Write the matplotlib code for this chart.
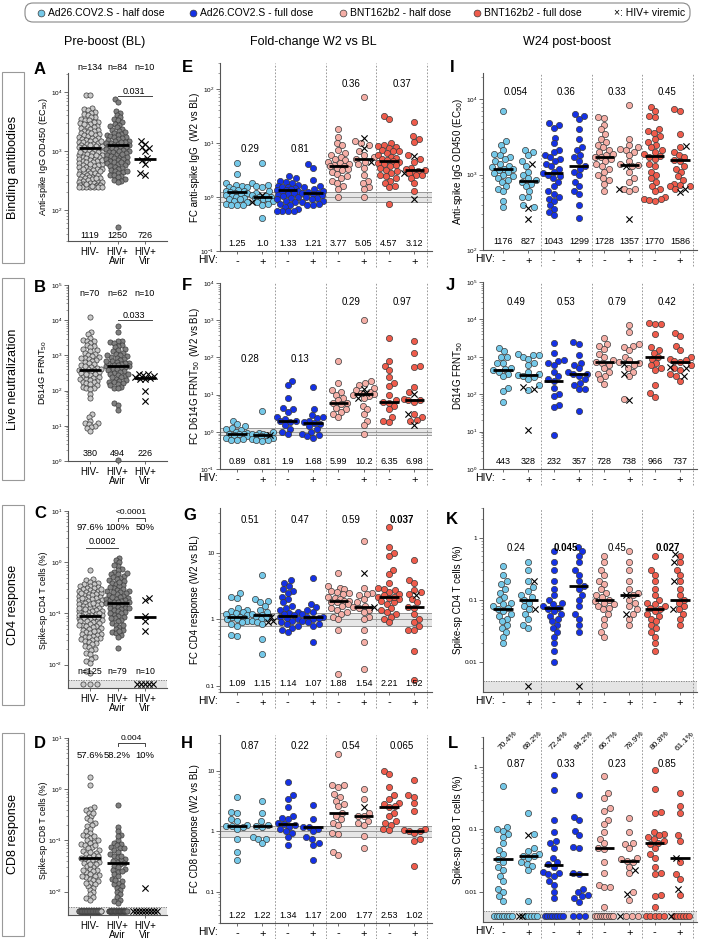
import numpy as np
import matplotlib
matplotlib.use("Agg")
import matplotlib.pyplot as plt
import matplotlib.transforms as mtransforms
from matplotlib.patches import FancyBboxPatch, Rectangle
from matplotlib.ticker import FixedLocator, FixedFormatter, LogFormatterMathtext, NullFormatter

plt.rcParams['font.family'] = ['Liberation Sans', 'DejaVu Sans']
plt.rcParams['mathtext.fontset'] = 'custom'
plt.rcParams['mathtext.rm'] = 'Liberation Sans'

# ======================= DATA =======================
legend_labels = ["Ad26.COV2.S - half dose", "Ad26.COV2.S - full dose",
                 "BNT162b2 - half dose", "BNT162b2 - full dose"]
bl_groups = ["HIV-", "HIV+\nAvir", "HIV+\nVir"]
hiv_ticks = ["-", "+"] * 4

# ---- Panel A: baseline binding IgG ----
A_neg = [9000, 8700, 5300, 5100, 4900, 4600, 4400, 4200, 4000, 3800,
         3700, 3500, 3400, 3300, 3150, 3050, 2950, 2850, 2700, 2600,
         2550, 2450, 2380, 2300, 2220, 2150, 2080, 2010, 1960, 1900,
         1840, 1790, 1740, 1690, 1640, 1600, 1550, 1510, 1470, 1430,
         1400, 1360, 1330, 1290, 1260, 1230, 1200, 1170, 1140, 1119,
         1100, 1070, 1050, 1020, 1000, 975, 950, 930, 905, 885,
         860, 840, 820, 800, 780, 760, 745, 725, 705, 690,
         670, 655, 640, 620, 605, 590, 575, 560, 545, 530,
         515, 505, 490, 480, 465, 455, 445, 430, 420, 410,
         400, 390, 380, 370, 362, 353, 345, 337, 330, 322,
         315, 308, 300, 294, 288, 282, 276, 270, 266, 262,
         258, 255, 252, 250, 250, 250, 250, 250, 250, 250,
         2900, 2000, 1500, 1250, 1150, 950, 850, 700, 600, 500, 450, 350, 280, 260]
A_avir = [7600, 6800, 4700, 4400, 4000, 3700, 3500, 3300, 3100, 2900,
          2800, 2650, 2500, 2400, 2300, 2200, 2100, 2000, 1950, 1900,
          1850, 1800, 1750, 1700, 1650, 1600, 1550, 1500, 1460, 1420,
          1380, 1340, 1300, 1270, 1250, 1230, 1200, 1180, 1150, 1120,
          1100, 1070, 1040, 1010, 980, 950, 920, 890, 860, 830,
          800, 780, 760, 740, 720, 700, 680, 660, 640, 620,
          600, 580, 560, 540, 520, 500, 480, 460, 440, 420,
          400, 390, 380, 360, 340, 320, 310, 300, 52,
          1400, 1000, 900, 650, 450]
A_vir = [1450, 1300, 1150, 1120, 1000, 750, 700, 600, 420, 400]
A_n = ["n=134", "n=84", "n=10"]
A_med = [1119, 1250, 726]

# ---- Panel B: baseline neutralization ----
B_neg = [12000, 4500, 4000, 3200, 2800, 2600, 2500, 2300, 2000, 1800,
         1700, 1500, 1400, 1300, 1200, 1100, 1000, 950, 900, 850,
         800, 750, 700, 650, 600, 560, 520, 480, 450, 420,
         400, 390, 380, 370, 350, 330, 310, 290, 270, 250,
         240, 230, 220, 210, 200, 190, 180, 170, 160, 150,
         140, 130, 120, 115, 110, 80, 60, 22, 18, 14,
         12, 12, 11, 10, 9, 8.5, 7, 850, 300, 500]
B_avir = [7000, 4500, 2600, 2500, 2400, 2200, 2000, 1900, 1700, 1500,
          1400, 1300, 1200, 1100, 1000, 950, 900, 850, 800, 750,
          700, 650, 620, 600, 580, 550, 520, 500, 494, 480,
          460, 440, 420, 400, 380, 360, 340, 320, 300, 280,
          260, 240, 220, 200, 190, 180, 170, 160, 150, 140,
          130, 120, 115, 45, 40, 28, 1.1, 1000, 600, 700, 300, 250]
B_vir = [300, 295, 285, 265, 240, 230, 215, 210, 95, 50]
B_n = ["n=70", "n=62", "n=10"]
B_med = [380, 494, 226]

# ---- Panel C: baseline CD4 ----
C_neg = [0.7, 0.48, 0.45, 0.42, 0.4, 0.38, 0.37, 0.35, 0.34, 0.33, 0.32, 0.31, 0.3,
         0.29, 0.28, 0.27, 0.265, 0.26, 0.25, 0.245, 0.24, 0.23, 0.225, 0.22, 0.21,
         0.205, 0.2, 0.195, 0.19, 0.185, 0.18, 0.175, 0.17, 0.165, 0.16, 0.155, 0.15,
         0.146, 0.142, 0.138, 0.134, 0.13, 0.126, 0.122, 0.118, 0.114, 0.11, 0.107,
         0.104, 0.1, 0.098, 0.095, 0.092, 0.09, 0.088, 0.085, 0.082, 0.08, 0.078,
         0.075, 0.072, 0.07, 0.068, 0.065, 0.062, 0.06, 0.058, 0.056, 0.054, 0.052,
         0.05, 0.048, 0.046, 0.044, 0.042, 0.04, 0.039, 0.038, 0.036, 0.035, 0.034,
         0.033, 0.032, 0.031, 0.03, 0.029, 0.028, 0.026, 0.025, 0.023, 0.022, 0.02,
         0.019, 0.017, 0.016, 0.014, 0.013, 0.012, 0.011, 0.0075, 0.007,
         0.3, 0.2, 0.15, 0.12, 0.1, 0.085, 0.07, 0.06, 0.045, 0.11, 0.25, 0.16, 0.13, 0.095]
C_avir = [1.2, 1.1, 1.0, 0.85, 0.75, 0.7, 0.65, 0.6, 0.58, 0.55, 0.52, 0.5, 0.48, 0.45,
          0.43, 0.4, 0.38, 0.36, 0.34, 0.32, 0.3, 0.29, 0.28, 0.27, 0.26, 0.25, 0.24,
          0.23, 0.22, 0.21, 0.2, 0.195, 0.19, 0.185, 0.18, 0.175, 0.17, 0.165, 0.16,
          0.155, 0.15, 0.145, 0.14, 0.135, 0.13, 0.125, 0.12, 0.115, 0.11, 0.105, 0.1,
          0.095, 0.09, 0.085, 0.08, 0.075, 0.07, 0.065, 0.06, 0.055, 0.05, 0.047, 0.044,
          0.041, 0.038, 0.035, 0.021, 0.9, 0.62, 0.42, 0.33, 0.26, 0.21, 0.17, 0.13,
          0.1, 0.08, 0.06, 0.045]
C_vir = [0.2, 0.18, 0.09, 0.07, 0.045]
C_zero = [3, 0, 5]
C_pct = ["97.6%", "100%", "50%"]
C_n = ["n=125", "n=79", "n=10"]
C_med = [0.09, 0.16, 0.085]

# ---- Panel D: baseline CD8 ----
D_neg = [1.7, 1.2, 0.45, 0.42, 0.4, 0.35, 0.3, 0.28, 0.25, 0.22, 0.2, 0.19, 0.17, 0.15,
         0.14, 0.13, 0.12, 0.11, 0.1, 0.095, 0.09, 0.085, 0.08, 0.075, 0.07, 0.066,
         0.062, 0.058, 0.055, 0.052, 0.05, 0.048, 0.046, 0.044, 0.042, 0.04, 0.038,
         0.036, 0.034, 0.032, 0.03, 0.028, 0.026, 0.025, 0.024, 0.022, 0.021, 0.02,
         0.019, 0.018, 0.017, 0.016, 0.015, 0.014, 0.013, 0.012, 0.011, 0.01, 0.009,
         0.008, 0.0075, 0.007, 0.35, 0.12, 0.08, 0.06, 0.045, 0.035, 0.027, 0.02, 0.015, 0.1]
D_avir = [0.5, 0.18, 0.15, 0.13, 0.1, 0.09, 0.085, 0.08, 0.075, 0.07, 0.065, 0.06, 0.055,
          0.05, 0.047, 0.044, 0.041, 0.038, 0.036, 0.034, 0.032, 0.03, 0.028, 0.026,
          0.024, 0.022, 0.02, 0.018, 0.016, 0.015, 0.014, 0.013, 0.012, 0.011, 0.01,
          0.009, 0.008, 0.007, 0.0065, 0.006, 0.12, 0.07, 0.05, 0.04, 0.025, 0.017]
D_vir = [0.012]
D_zero = [53, 33, 9]
D_pct = ["57.6%", "58.2%", "10%"]
D_med = [0.045, 0.037, None]

# ---- Panel E: FC IgG ----
E_circ = [
    [4.3, 2.7, 1.8, 1.7, 1.6, 1.5, 1.5, 1.4, 1.35, 1.3, 1.3, 1.25, 1.2, 1.2, 1.15, 1.1, 1.05, 1.0, 0.95, 0.9, 0.9, 0.85, 0.8, 0.75, 0.72, 0.7, 0.7],
    [4.3, 1.8, 1.7, 1.6, 1.5, 1.3, 1.2, 1.1, 1.05, 1.0, 1.0, 0.95, 0.9, 0.9, 0.85, 0.8, 0.75, 0.7, 0.4],
    [2.4, 2.2, 2.0, 1.9, 1.8, 1.7, 1.6, 1.5, 1.5, 1.45, 1.4, 1.35, 1.33, 1.3, 1.25, 1.2, 1.15, 1.1, 1.05, 1.0, 0.95, 0.9, 0.85, 0.8, 0.75, 0.7, 0.65, 0.6, 0.55, 0.55, 0.55, 0.55],
    [4.0, 3.5, 2.1, 1.6, 1.5, 1.4, 1.3, 1.25, 1.21, 1.2, 1.15, 1.1, 1.0, 0.95, 0.9, 0.85, 0.8, 0.75, 0.7, 0.7],
    [18, 13, 10, 9, 7.5, 6.5, 6, 5.5, 5, 4.8, 4.5, 4.2, 4, 3.9, 3.8, 3.7, 3.5, 3.3, 3.1, 2.9, 2.7, 2.4, 2.2, 2.0, 1.8, 1.6, 1.4, 1.0],
    [70, 11, 10, 9, 7, 6, 5.5, 5, 4.5, 4, 3.5, 2.5, 2, 1.8, 1.5, 1.4, 1.0],
    [32, 28, 10, 9, 8.8, 8.5, 8, 7.5, 7.2, 7, 6.5, 6, 5.5, 5.2, 5, 4.8, 4.57, 4.5, 4.3, 4, 3.9, 3.8, 3.5, 3.2, 3, 2.8, 2.6, 2.4, 2.2, 2, 1.8, 1.6, 1.5, 0.75],
    [24, 13.5, 12, 10.5, 6, 5, 4.5, 3.5, 3.3, 3.1, 3, 2.9, 2.8, 2.6, 2.5, 2.2, 1.8, 1.3],
]
E_x = [[], [1.1, 0.8], [], [], [], [12.5, 8, 4.5], [], [5.8, 2.8, 0.9]]
E_med = [1.25, 1.0, 1.33, 1.21, 3.77, 5.05, 4.57, 3.12]
E_medlab = ["1.25", "1.0", "1.33", "1.21", "3.77", "5.05", "4.57", "3.12"]
E_p = ["0.29", "0.81", "0.36", "0.37"]

# ---- Panel F: FC neutralization ----
F_circ = [
    [2.0, 1.6, 1.4, 1.3, 1.2, 1.1, 1.0, 0.95, 0.9, 0.9, 0.85, 0.8, 0.75, 0.7, 0.65, 0.6, 0.6],
    [3.6, 1.0, 0.95, 0.9, 0.85, 0.8, 0.8, 0.75, 0.7, 0.65, 0.6, 0.6, 0.55],
    [23, 18, 8, 4.5, 4.2, 3.5, 2.5, 2.2, 2.0, 1.9, 1.8, 1.5, 1.2, 1.0, 0.85],
    [16, 4, 2.8, 2.5, 2.3, 2.0, 1.8, 1.68, 1.6, 1.4, 1.2, 1.0, 0.85, 0.8, 0.75, 0.7],
    [80, 20, 13, 12, 10, 8, 7, 6, 6, 5.5, 4.5, 4, 3.5, 3, 2.5],
    [1000, 23, 20, 18, 15, 13, 12, 11, 10.2, 10, 9, 8, 5, 4, 3, 2, 1.5, 0.9],
    [330, 80, 60, 45, 30, 20, 17, 10, 7, 6.35, 6, 5, 4, 2.5, 2, 1.8],
    [270, 130, 60, 55, 16, 12, 7.5, 7, 6.98, 6.5, 3, 2.5, 2.1, 2],
]
F_x = [[], [0.8], [], [], [], [14, 11, 8], [], [10.5, 3.1, 1.5]]
F_med = [0.89, 0.81, 1.9, 1.68, 5.99, 10.2, 6.35, 6.98]
F_medlab = ["0.89", "0.81", "1.9", "1.68", "5.99", "10.2", "6.35", "6.98"]
F_p = ["0.28", "0.13", "0.29", "0.97"]

# ---- Panel G: FC CD4 ----
G_circ = [
    [2.5, 2.2, 2.1, 1.5, 1.4, 1.35, 1.3, 1.25, 1.2, 1.15, 1.1, 1.09, 1.05, 1.0, 1.0, 0.95, 0.9, 0.85, 0.8, 0.58, 0.56],
    [4.6, 2.0, 1.9, 1.8, 1.6, 1.4, 1.3, 1.2, 1.15, 1.1, 1.05, 1.0, 0.95, 0.9, 0.85, 0.5, 0.3],
    [3.9, 3.6, 3.2, 2.9, 2.7, 2.5, 2.2, 2.0, 1.8, 1.6, 1.5, 1.4, 1.3, 1.25, 1.2, 1.15, 1.1, 1.05, 1.0, 0.95, 0.9, 0.85, 0.8, 0.75, 0.7, 0.65],
    [4.2, 1.7, 1.55, 1.4, 1.3, 1.2, 1.1, 1.07, 1.05, 1.0, 0.95, 0.9, 0.85, 0.8, 0.45],
    [5.0, 3.2, 3.0, 2.9, 2.7, 2.5, 2.4, 2.2, 2.1, 2.0, 1.9, 1.88, 1.8, 1.7, 1.6, 1.5, 1.4, 1.3, 1.2, 1.1, 1.0, 0.7, 0.15, 2.6, 1.85],
    [15, 3.0, 2.5, 2.4, 2.3, 2.0, 1.8, 1.6, 1.54, 1.5, 1.4, 1.3, 1.1, 1.0, 0.7, 0.45, 0.18],
    [25, 12.5, 10, 9, 5.5, 4.8, 3.5, 3.0, 2.8, 2.6, 2.4, 2.3, 2.21, 2.1, 2.0, 1.9, 1.8, 1.7, 1.5, 1.4, 1.3, 1.2, 1.1, 1.0, 0.9, 2.9, 2.2],
    [7.8, 3.9, 3.5, 2.8, 2.6, 2.4, 2.0, 1.8, 1.52, 1.5, 1.2, 1.0, 0.9, 0.8, 0.7, 0.7, 0.33, 0.12],
]
G_x = [[], [1.1, 0.95, 0.9], [], [], [], [5.0, 1.55], [], [2.3]]
G_med = [1.09, 1.15, 1.14, 1.07, 1.88, 1.54, 2.21, 1.52]
G_medlab = ["1.09", "1.15", "1.14", "1.07", "1.88", "1.54", "2.21", "1.52"]
G_p = ["0.51", "0.47", "0.59", "0.037"]
G_bold = [False, False, False, True]

# ---- Panel H: FC CD8 ----
H_circ = [
    [3.8, 2.1, 2.0, 1.6, 1.5, 1.3, 1.25, 1.22, 1.2, 1.1, 0.75, 0.45, 0.34],
    [3.2, 2.0, 1.5, 1.3, 1.22, 1.2, 0.8, 0.75, 0.75, 0.63],
    [6.5, 4.0, 3.5, 2.5, 1.8, 1.7, 1.6, 1.4, 1.34, 1.3, 1.2, 1.1, 1.0, 0.95, 0.8, 0.6],
    [2.7, 1.6, 1.2, 1.17, 1.1, 1.0, 0.8, 0.75, 0.65, 0.6, 0.33],
    [19, 6.0, 5.8, 5.5, 4.2, 3.8, 3.2, 2.8, 2.6, 2.0, 1.8, 1.6, 1.4, 1.3, 0.95, 0.9, 0.45, 0.4],
    [5.0, 3.5, 2.0, 1.8, 1.77, 1.5, 1.4, 1.3, 0.85, 0.53],
    [10, 9.0, 5.5, 4.0, 3.5, 3.0, 2.9, 2.6, 2.53, 2.0, 1.8, 1.5, 1.4, 1.3, 1.1, 1.05],
    [7.2, 4.0, 3.8, 3.0, 2.2, 1.1, 1.05, 1.02, 1.0, 0.95, 0.75, 0.7, 0.27],
]
H_x = [[], [], [], [], [], [2.5], [], []]
H_med = [1.22, 1.22, 1.34, 1.17, 2.00, 1.77, 2.53, 1.02]
H_medlab = ["1.22", "1.22", "1.34", "1.17", "2.00", "1.77", "2.53", "1.02"]
H_p = ["0.87", "0.22", "0.54", "0.065"]

# ---- Panel I: W24 IgG ----
I_circ = [
    [7000, 2800, 2500, 2100, 1900, 1800, 1700, 1600, 1500, 1400, 1300, 1250, 1200, 1176, 1150, 1100, 1050, 1000, 950, 900, 850, 800, 700, 650, 600, 450, 370],
    [2100, 2000, 1800, 1500, 1300, 1100, 1000, 900, 850, 800, 750, 700, 600, 500, 500, 400, 370],
    [4800, 4500, 4200, 3100, 2600, 2100, 2000, 1800, 1700, 1600, 1500, 1400, 1300, 1200, 1100, 1043, 1000, 950, 900, 800, 700, 600, 550, 500, 480, 450, 400, 350, 320, 290],
    [6300, 6100, 5500, 4000, 3000, 2300, 2100, 1800, 1700, 1500, 1300, 1200, 1100, 1000, 800, 700, 600, 550, 400, 270],
    [5800, 5600, 4600, 4000, 3500, 3000, 2700, 2500, 2300, 2100, 2000, 1900, 1800, 1728, 1700, 1600, 1500, 1400, 1300, 1200, 1100, 1000, 900, 850, 750, 600],
    [8500, 3000, 2500, 2300, 2200, 2100, 2000, 1800, 1500, 1400, 1357, 1300, 1100, 900, 800, 650, 650, 600],
    [8000, 7000, 6000, 5800, 4000, 3800, 3600, 3300, 3000, 2700, 2500, 2300, 2100, 2000, 1900, 1770, 1700, 1600, 1400, 1300, 1100, 1000, 900, 800, 700, 650, 600, 500, 480, 470, 460, 450],
    [7500, 7000, 3500, 2300, 2000, 1800, 1700, 1586, 1500, 1300, 1200, 1100, 950, 850, 750, 720, 700, 700, 650],
]
I_x = [[], [1400, 360, 260], [], [], [], [1300, 650, 260], [], [2400, 650, 580]]
I_med = [1176, 827, 1043, 1299, 1728, 1357, 1770, 1586]
I_medlab = ["1176", "827", "1043", "1299", "1728", "1357", "1770", "1586"]
I_p = ["0.054", "0.36", "0.33", "0.45"]

# ---- Panel J: W24 neutralization ----
J_circ = [
    [1700, 1400, 1000, 1000, 700, 700, 500, 470, 443, 400, 350, 300, 150, 120, 60],
    [1200, 1100, 1100, 1000, 900, 700, 600, 400, 350, 328, 300, 280, 250, 180, 130],
    [2300, 1300, 800, 750, 700, 600, 400, 300, 250, 232, 150, 100, 90, 50, 45, 8],
    [2500, 2200, 1100, 700, 600, 500, 400, 357, 350, 300, 250, 200, 180, 140, 140, 35],
    [3200, 2200, 2000, 1600, 1200, 1000, 800, 728, 700, 600, 500, 400, 350, 300, 250, 190],
    [7000, 4500, 2200, 2000, 1800, 1500, 1000, 800, 738, 700, 600, 500, 400, 300, 75],
    [8000, 7700, 7500, 4000, 1800, 1500, 1300, 1000, 900, 700, 600, 500, 450, 180, 110, 85],
    [4300, 3500, 2000, 1500, 1000, 900, 800, 750, 737, 600, 500, 450, 350, 300, 230],
]
J_x = [[], [160, 140, 11], [], [], [], [650, 350, 70], [], [550, 500, 300]]
J_med = [443, 328, 232, 357, 728, 738, 966, 737]
J_medlab = ["443", "328", "232", "357", "728", "738", "966", "737"]
J_p = ["0.49", "0.53", "0.79", "0.42"]

# ---- Panel K: W24 CD4 ----
K_circ = [
    [0.35, 0.25, 0.2, 0.18, 0.15, 0.13, 0.11, 0.1, 0.09, 0.085, 0.08, 0.075, 0.07, 0.065, 0.06, 0.055, 0.05, 0.045, 0.04, 0.035, 0.03, 0.025, 0.02],
    [0.4, 0.3, 0.2, 0.16, 0.14, 0.12, 0.11, 0.1, 0.09, 0.08, 0.07, 0.06, 0.05, 0.04, 0.035],
    [0.6, 0.4, 0.3, 0.2, 0.15, 0.12, 0.1, 0.09, 0.085, 0.08, 0.075, 0.07, 0.065, 0.06, 0.055, 0.05, 0.045, 0.04, 0.035, 0.03, 0.025, 0.02, 0.015, 0.01],
    [0.7, 0.6, 0.5, 0.4, 0.3, 0.25, 0.2, 0.17, 0.15, 0.12, 0.1, 0.08, 0.06, 0.05, 0.04, 0.03],
    [0.5, 0.4, 0.3, 0.25, 0.2, 0.18, 0.15, 0.13, 0.12, 0.11, 0.1, 0.095, 0.09, 0.085, 0.08, 0.075, 0.07, 0.06, 0.05, 0.04, 0.03, 0.025],
    [0.6, 0.4, 0.3, 0.2, 0.15, 0.13, 0.12, 0.1, 0.09, 0.08, 0.07, 0.06, 0.05, 0.04],
    [0.5, 0.3, 0.25, 0.2, 0.15, 0.12, 0.1, 0.09, 0.085, 0.08, 0.075, 0.07, 0.065, 0.06, 0.055, 0.05, 0.045, 0.04, 0.035, 0.03, 0.025, 0.02, 0.015],
    [0.5, 0.4, 0.3, 0.25, 0.2, 0.15, 0.12, 0.1, 0.09, 0.08, 0.07, 0.06, 0.05, 0.04],
]
K_x = [[], [0.2, 0.07], [], [], [], [0.12, 0.06], [], [0.55, 0.4, 0.2, 0.07]]
K_zero_c = [0, 0, 0, 0, 0, 0, 0, 0]
K_zero_x = [0, 1, 0, 1, 0, 0, 0, 0]
K_med = [0.07, 0.1, 0.075, 0.17, 0.1, 0.12, 0.07, 0.1]
K_p = ["0.24", "0.045", "0.45", "0.027"]
K_bold = [False, True, False, True]

# ---- Panel L: W24 CD8 ----
L_circ = [
    [0.5, 0.11, 0.1, 0.095, 0.085, 0.075, 0.06, 0.047, 0.04, 0.033, 0.03, 0.025, 0.022, 0.018, 0.015, 0.011, 0.01, 0.0085, 0.0072],
    [0.18, 0.085, 0.05, 0.045, 0.04, 0.038, 0.037, 0.035, 0.03, 0.028, 0.026, 0.022, 0.0072],
    [0.75, 0.43, 0.14, 0.09, 0.065, 0.06, 0.05, 0.035, 0.03, 0.028, 0.025, 0.021, 0.02, 0.019, 0.018, 0.015, 0.013, 0.01, 0.008],
    [0.35, 0.16, 0.14, 0.095, 0.08, 0.052, 0.05, 0.02, 0.019, 0.011, 0.01, 0.009, 0.0085, 0.008, 0.007],
    [0.72, 0.38, 0.32, 0.22, 0.2, 0.14, 0.12, 0.09, 0.07, 0.06, 0.05, 0.048, 0.03, 0.02, 0.013, 0.012, 0.012, 0.0058],
    [0.15, 0.09, 0.06, 0.058, 0.05, 0.035, 0.033, 0.031, 0.03, 0.025, 0.02, 0.01, 0.0075],
    [0.88, 0.45, 0.19, 0.18, 0.09, 0.085, 0.08, 0.075, 0.07, 0.065, 0.06, 0.058, 0.05, 0.04, 0.035, 0.025, 0.02, 0.019, 0.009, 0.0085, 0.0058],
    [0.38, 0.24, 0.18, 0.08, 0.065, 0.03, 0.019, 0.016, 0.009],
]
L_x = [[], [0.08], [], [], [], [0.022, 0.0092], [], [0.035, 0.011]]
L_zero_c = [8, 5, 8, 3, 9, 3, 5, 6]
L_zero_x = [0, 2, 0, 0, 0, 1, 0, 1]
L_med = [0.033, 0.037, 0.027, 0.019, 0.05, 0.031, 0.06, 0.035]
L_pct = ["70.4%", "68.2%", "72.4%", "84.2%", "66.7%", "78.9%", "80.8%", "61.1%"]
L_p = ["0.87", "0.33", "0.23", "0.85"]

# ======================= STYLE / LAYOUT =======================
FW, FH = 701, 939
fig = plt.figure(figsize=(FW / 100, FH / 100), dpi=100)

VCOL = ['#74c8e8', '#1431e6', '#f5aea6', '#ef5b4b']
GREY = ['#c9c9c9', '#808080']
EDGE = '#3a3a3a'
LOD = 0.005


def add_ax(l, t, r, b):
    return fig.add_axes([l / FW, 1 - b / FH, (r - l) / FW, (b - t) / FH])


def minor_list(lo, hi):
    out = []
    for e in range(-4, 7):
        for m in range(2, 10):
            v = m * 10.0 ** e
            if lo <= v <= hi:
                out.append(v)
    return out


def style_ax(ax, ylim, xlim, majors, labels=None, minor_lo=None):
    ax.set_yscale('log')
    ax.set_ylim(ylim)
    ax.set_xlim(xlim)
    for s in ['top', 'right']:
        ax.spines[s].set_visible(False)
    for s in ['left', 'bottom']:
        ax.spines[s].set_color('#555555')
        ax.spines[s].set_linewidth(0.8)
    ax.yaxis.set_major_locator(FixedLocator(majors))
    if labels is None:
        ax.yaxis.set_major_formatter(LogFormatterMathtext())
    else:
        ax.yaxis.set_major_formatter(FixedFormatter(labels))
    lo = minor_lo if minor_lo is not None else ylim[0]
    ax.yaxis.set_minor_locator(FixedLocator(minor_list(lo, ylim[1])))
    ax.yaxis.set_minor_formatter(NullFormatter())
    ax.tick_params(axis='y', which='major', labelsize=4.6, length=3, width=0.6, pad=1, color='#555555')
    ax.tick_params(axis='y', which='minor', length=1.6, width=0.4, color='#555555')
    ax.tick_params(axis='x', length=2.5, width=0.6, color='#555555', pad=1.5)
    ax.patch.set_alpha(0)


def swarm_offsets(ax, xc, vals, d, maxw):
    """Beeswarm in pixel space, half-width capped at maxw (overlap allowed beyond)."""
    vals = np.asarray(vals, float)
    n = len(vals)
    if n == 0:
        return np.zeros(0)
    ypx = ax.transData.transform(np.c_[np.full(n, xc), vals])[:, 1]
    ppu = ax.transData.transform((1, 1))[0] - ax.transData.transform((0, 1))[0]
    order = np.argsort(ypx, kind='stable')
    px_l, py_l = [], []
    offs = np.zeros(n)
    grid = np.linspace(-maxw, maxw, 29)
    for k, i in enumerate(order):
        y = ypx[i]
        near = [(px, py) for px, py in zip(px_l, py_l) if abs(y - py) < d]
        cands = [0.0]
        for px, py in near:
            dx = np.sqrt(d * d - (y - py) ** 2)
            cands += [px + dx, px - dx]
        sgn = 1 if k % 2 else -1
        cands = [c for c in cands if abs(c) <= maxw + 1e-9]
        cands = sorted(cands, key=lambda c: (round(abs(c), 3), sgn * c))
        chosen = None
        for c in cands:
            if all((c - px) ** 2 + (y - py) ** 2 >= d * d - 1e-6 for px, py in near):
                chosen = c
                break
        if chosen is None:
            best, bestv = 0.0, -1
            for g in grid:
                mind = min(((g - px) ** 2 + (y - py) ** 2) for px, py in near)
                score = mind - 0.01 * abs(g)
                if score > bestv:
                    bestv, best = score, g
            chosen = best
        px_l.append(chosen)
        py_l.append(y)
        offs[i] = chosen / ppu
    return offs


def draw_group(ax, xc, circles, crosses, color, s, d, maxw, zc=0, zx=0, zero_y=None,
               zspace=6.0, zmax=20.0, xs=20):
    vals = list(circles) + list(crosses)
    offs = swarm_offsets(ax, xc, vals, d, maxw)
    nc = len(circles)
    if nc:
        ax.scatter(xc + offs[:nc], circles, s=s, c=color, edgecolors=EDGE,
                   linewidths=0.5, zorder=3, clip_on=False)
    if len(crosses):
        ax.scatter(xc + offs[nc:], crosses, s=xs, marker='x', c='k',
                   linewidths=0.8, zorder=4, clip_on=False)
    nz = zc + zx
    if nz:
        ppu = ax.transData.transform((1, 1))[0] - ax.transData.transform((0, 1))[0]
        w = min((nz - 1) * zspace, zmax)
        pos = np.linspace(-w / 2, w / 2, nz) / ppu if nz > 1 else np.zeros(1)
        if zx:
            ax.scatter(xc + pos[:zx], [zero_y] * zx, s=xs, marker='x', c='k',
                       linewidths=0.8, zorder=4, clip_on=False)
        if zc:
            ax.scatter(xc + pos[zx:], [zero_y] * zc, s=s, c=color, edgecolors=EDGE,
                       linewidths=0.5, zorder=3, clip_on=False)


def median_bar(ax, xc, m, half=0.4):
    if m is None:
        return
    ax.plot([xc - half, xc + half], [m, m], color='k', lw=2.0, zorder=6,
            solid_capstyle='butt')


# overlay axes for figure-level text in pixel units
ov = fig.add_axes([0, 0, 1, 1], zorder=20)
ov.set_xlim(0, FW)
ov.set_ylim(FH, 0)
ov.axis('off')


def T(x, y, s, **kw):
    kw.setdefault('ha', 'center')
    kw.setdefault('va', 'center')
    ov.text(x, y, s, **kw)


def xpx(ax, xd):
    return ax.transData.transform((xd, 1.0))[0]


# ---------------- Legend ----------------
ov.add_patch(FancyBboxPatch((25, 3), 665, 19, boxstyle='round,pad=0,rounding_size=8',
                            fc='white', ec='#888888', lw=0.8))
leg_x = [41, 193, 343, 477]
for cx, col, lab in zip(leg_x, VCOL, legend_labels):
    ov.scatter([cx], [12.5], s=24, c=col, edgecolors=EDGE, linewidths=0.5)
    T(cx + 7, 12.5, lab, ha='left', fontsize=7.5)
T(614, 12.5, "\u00d7: HIV+ viremic", ha='left', fontsize=7.5)

# column titles
T(105, 42, "Pre-boost (BL)", fontsize=9)
T(313, 42, "Fold-change W2 vs BL", fontsize=9)
T(567, 42, "W24 post-boost", fontsize=9)

# row boxes
for (t, b, lab) in [(72, 263, "Binding antibodies"), (278, 480, "Live neutralization"),
                    (505, 705, "CD4 response"), (733, 936, "CD8 response")]:
    ov.add_patch(Rectangle((2, t), 22, b - t, fill=False, ec='#999999', lw=0.8))
    T(13, (t + b) / 2, lab, rotation=90, fontsize=9)

# ======================= BASELINE PANELS (A-D) =======================
BL_XLIM = (-0.8, 2.8)
BL_S, BL_D, BL_W = 14, 4.0, 11.5


def bl_xaxis(ax):
    ax.set_xticks([0, 1, 2])
    ax.set_xticklabels(bl_groups, fontsize=7, linespacing=0.9)


# Panel A
axA = add_ax(68, 73, 167, 241)
style_ax(axA, (10 ** 1.477, 10 ** 4.32), BL_XLIM, [1e2, 1e3, 1e4])
bl_xaxis(axA)
draw_group(axA, 0, A_neg, [], GREY[0], BL_S, BL_D, BL_W)
draw_group(axA, 1, A_avir, [], GREY[1], BL_S, BL_D, BL_W)
draw_group(axA, 2, [], A_vir, 'k', BL_S, 5.0, 10)
for i, m in enumerate(A_med):
    median_bar(axA, i, m)
for i in range(3):
    T(xpx(axA, i), 67, A_n[i], fontsize=6.5)
    T(xpx(axA, i), 235, f"{A_med[i]}", fontsize=6.5)
T(xpx(axA, 1.6), 91, "0.031", fontsize=6.5)
ov.plot([xpx(axA, 1.0), xpx(axA, 2.25)], [96, 96], color='#444', lw=0.7)
T(43, 157, "Anti-spike IgG OD450 (EC$_{50}$)", rotation=90, fontsize=6.6)
T(40, 69, "A", fontsize=12, fontweight='bold')

# Panel B
axB = add_ax(68, 285, 167, 461)
style_ax(axB, (1, 1e5), BL_XLIM, [1, 10, 1e2, 1e3, 1e4, 1e5])
bl_xaxis(axB)
draw_group(axB, 0, B_neg, [], GREY[0], BL_S, BL_D, BL_W)
draw_group(axB, 1, B_avir, [], GREY[1], BL_S, BL_D, BL_W)
draw_group(axB, 2, [], B_vir, 'k', BL_S, 5.0, 10)
for i, m in enumerate(B_med):
    median_bar(axB, i, m)
for i in range(3):
    T(xpx(axB, i), 293, B_n[i], fontsize=6.5)
    T(xpx(axB, i), 453, f"{B_med[i]}", fontsize=6.5)
T(xpx(axB, 1.6), 315, "0.033", fontsize=6.5)
ov.plot([xpx(axB, 1.0), xpx(axB, 2.25)], [320, 320], color='#444', lw=0.7)
T(43, 373, "D614G FRNT$_{50}$", rotation=90, fontsize=6.6)
T(40, 288, "B", fontsize=12, fontweight='bold')

# Panel C
axC = add_ax(68, 511, 167, 688)
style_ax(axC, (0.0035, 10), BL_XLIM, [0.01, 0.1, 1, 10], minor_lo=0.01)
bl_xaxis(axC)
axC.axhspan(0.0035, LOD, color='#e4e4e4', zorder=0, lw=0)
axC.axhline(LOD, color='#777777', lw=0.6, ls=(0, (1.5, 1.5)), zorder=1)
ZY = 0.0042
draw_group(axC, 0, C_neg, [], GREY[0], BL_S, BL_D, BL_W, zc=C_zero[0], zero_y=ZY, zspace=7)
draw_group(axC, 1, C_avir, [], GREY[1], BL_S, BL_D, BL_W)
draw_group(axC, 2, [], C_vir, 'k', BL_S, 5.0, 10, zx=C_zero[2], zero_y=ZY, zspace=4, zmax=18)
for i, m in enumerate(C_med):
    median_bar(axC, i, m)
for i in range(3):
    T(xpx(axC, i), 528, C_pct[i], fontsize=6.8)
    T(xpx(axC, i), 671, C_n[i], fontsize=6.3)
T(xpx(axC, 1.5), 512, "<0.0001", fontsize=6)
ov.plot([xpx(axC, 1.0), xpx(axC, 1.0), xpx(axC, 2.0), xpx(axC, 2.0)], [521, 518, 518, 521],
        color='#444', lw=0.7)
T(xpx(axC, 0.45), 542, "0.0002", fontsize=6.5)
ov.plot([xpx(axC, -0.15), xpx(axC, 1.0)], [548, 548], color='#444', lw=0.7)
T(43, 600, "Spike-sp CD4 T cells (%)", rotation=90, fontsize=6.3)
T(40, 513, "C", fontsize=12, fontweight='bold')

# Panel D
axD = add_ax(68, 738, 167, 915)
style_ax(axD, (0.0035, 10), BL_XLIM, [0.01, 0.1, 1, 10], minor_lo=0.01)
bl_xaxis(axD)
axD.axhspan(0.0035, LOD, color='#e4e4e4', zorder=0, lw=0)
axD.axhline(LOD, color='#777777', lw=0.6, ls=(0, (1.5, 1.5)), zorder=1)
draw_group(axD, 0, D_neg, [], GREY[0], BL_S, BL_D, BL_W, zc=D_zero[0], zero_y=ZY, zspace=2, zmax=22)
draw_group(axD, 1, D_avir, [], GREY[1], BL_S, BL_D, BL_W, zc=D_zero[1], zero_y=ZY, zspace=2, zmax=18)
draw_group(axD, 2, [], D_vir, 'k', BL_S, 5.0, 10, zx=D_zero[2], zero_y=ZY, zspace=3, zmax=24)
for i, m in enumerate(D_med):
    median_bar(axD, i, m)
for i in range(3):
    T(xpx(axD, i), 755, D_pct[i], fontsize=6.8)
T(xpx(axD, 1.5), 738, "0.004", fontsize=6)
ov.plot([xpx(axD, 1.0), xpx(axD, 1.0), xpx(axD, 2.0), xpx(axD, 2.0)], [746, 743, 743, 746],
        color='#444', lw=0.7)
T(43, 830, "Spike-sp CD8 T cells (%)", rotation=90, fontsize=6.3)
T(40, 743, "D", fontsize=12, fontweight='bold')

# ======================= VACCINE PANELS (E-L) =======================
V_S, V_D, V_W = 20, 6.0, 10.5
COLS = [VCOL[0], VCOL[0], VCOL[1], VCOL[1], VCOL[2], VCOL[2], VCOL[3], VCOL[3]]
MID_XLIM = (-0.67, 7.7)
RIGHT_XLIM = (-0.79, 7.67)


def vac_panel(l, t, r, b, xlim, ylim, majors, labels, circ, crs, med, p, p_y, letter,
              letter_xy, ylab, ylab_x, medlab=None, band=False, lod=False, zc=None, zx=None,
              bold=None, minor_lo=None, hiv_x=None):
    ax = add_ax(l, t, r, b)
    style_ax(ax, ylim, xlim, majors, labels, minor_lo=minor_lo)
    ax.set_xticks(range(8))
    ax.set_xticklabels(hiv_ticks, fontsize=8)
    trans = mtransforms.blended_transform_factory(ax.transData, ax.transAxes)
    ext = 16.0 / (b - t)
    for xs in [1.5, 3.5, 5.5, 7.5]:
        ax.plot([xs, xs], [-ext, 1], transform=trans, color='#8a8a8a', lw=0.6,
                ls=(0, (2, 2)), clip_on=False, zorder=1)
    if band:
        ax.axhspan(0.8, 1.25, color='#e6e6e6', zorder=0, lw=0)
        for v in [0.8, 1.0, 1.25]:
            ax.axhline(v, color='#8c8c8c', lw=0.6, zorder=1)
    zero_y = None
    if lod:
        ax.axhspan(ylim[0], LOD, color='#e4e4e4', zorder=0, lw=0)
        ax.axhline(LOD, color='#777777', lw=0.6, ls=(0, (1.5, 1.5)), zorder=1)
        zero_y = 10 ** ((np.log10(ylim[0]) + np.log10(LOD)) / 2)
    for i in range(8):
        draw_group(ax, i, circ[i], crs[i], COLS[i], V_S, V_D, V_W,
                   zc=(zc[i] if zc else 0), zx=(zx[i] if zx else 0), zero_y=zero_y,
                   zspace=6.0, zmax=18)
        median_bar(ax, i, med[i], half=0.38)
    for j in range(4):
        fw = 'bold' if (bold and bold[j]) else 'normal'
        T(xpx(ax, 2 * j + 0.5), p_y[j], p[j], fontsize=7, fontweight=fw)
    if medlab:
        for i in range(8):
            T(xpx(ax, i), b - 8, medlab[i], fontsize=6.5)
    T(hiv_x, b + 9, "HIV:", fontsize=7.5)
    T(ylab_x, (t + b) / 2, ylab, rotation=90, fontsize=7)
    T(letter_xy[0], letter_xy[1], letter, fontsize=12, fontweight='bold')
    return ax


axE = vac_panel(220, 63, 432, 251, MID_XLIM, (0.1, 10 ** 2.48), [0.1, 1, 10, 100], None,
                E_circ, E_x, E_med, E_p, [149, 149, 84, 84], "E", (187, 67),
                "FC anti-spike IgG  (W2 vs BL)", 195, medlab=E_medlab, band=True, hiv_x=208)
axF = vac_panel(220, 283, 432, 469, MID_XLIM, (0.1, 1e4), [0.1, 1, 10, 100, 1e3, 1e4], None,
                F_circ, F_x, F_med, F_p, [359, 359, 302, 302], "F", (187, 286),
                "FC D614G FRNT$_{50}$  (W2 vs BL)", 195, medlab=F_medlab, band=True, hiv_x=208)
axG = vac_panel(220, 508, 432, 692, MID_XLIM, (0.08, 48), [0.1, 1, 10], ["0.1", "1", "10"],
                G_circ, G_x, G_med, G_p, [520] * 4, "G", (190, 515),
                "FC CD4 response (W2 vs BL)", 195, medlab=G_medlab, band=True, bold=G_bold,
                hiv_x=208)
axH = vac_panel(220, 735, 432, 923, MID_XLIM, (0.03, 40), [0.1, 1, 10], ["0.1", "1", "10"],
                H_circ, H_x, H_med, H_p, [746] * 4, "H", (187, 743),
                "FC CD8 response (W2 vs BL)", 195, medlab=H_medlab, band=True, hiv_x=208)
axI = vac_panel(483, 73, 697, 250, RIGHT_XLIM, (100, 10 ** 4.35), [100, 1e3, 1e4], None,
                I_circ, I_x, I_med, I_p, [92] * 4, "I", (452, 68),
                "Anti-spike IgG OD450 (EC$_{50}$)", 458, medlab=I_medlab, hiv_x=485)
axJ = vac_panel(483, 282, 697, 469, RIGHT_XLIM, (1, 1e5), [1, 10, 100, 1e3, 1e4, 1e5], None,
                J_circ, J_x, J_med, J_p, [302] * 4, "J", (450, 286),
                "D614G FRNT$_{50}$", 458, medlab=J_medlab, hiv_x=485)
axK = vac_panel(483, 508, 697, 692, RIGHT_XLIM, (0.0033, 3), [0.01, 0.1, 1], ["0.01", "0.1", "1"],
                K_circ, K_x, K_med, K_p, [548] * 4, "K", (452, 520),
                "Spike-sp CD4 T cells (%)", 458, lod=True, zc=K_zero_c, zx=K_zero_x,
                bold=K_bold, minor_lo=0.01, hiv_x=485)
axL = vac_panel(483, 737, 697, 922, RIGHT_XLIM, (0.0033, 3), [0.01, 0.1, 1], ["0.01", "0.1", "1"],
                L_circ, L_x, L_med, L_p, [764] * 4, "L", (453, 743),
                "Spike-sp CD8 T cells (%)", 458, lod=True, zc=L_zero_c, zx=L_zero_x,
                minor_lo=0.01, hiv_x=485)
for i in range(8):
    T(xpx(axL, i + 0.2), 741, L_pct[i], rotation=45, fontsize=6)

fig.savefig("out.png", dpi=100)
